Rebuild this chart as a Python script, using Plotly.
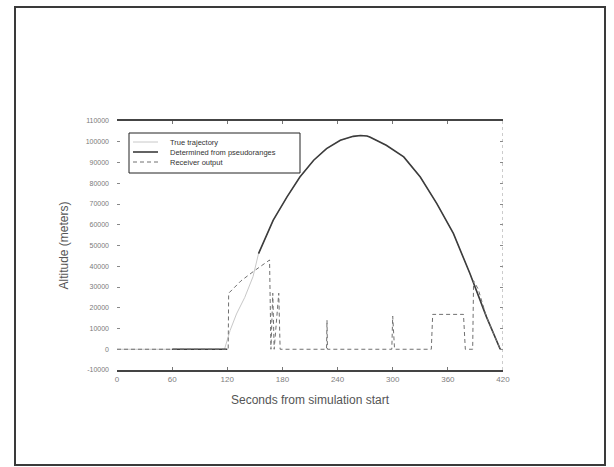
import plotly.graph_objects as go

# ---- data ----
true_t = [0, 60, 117, 123, 130, 139, 148, 154, 170, 185, 199, 214, 228, 243, 257, 265, 272, 275, 293, 312, 330, 348, 366, 384, 402, 417, 420]
true_alt = [0, 0, 0, 9000, 17000, 25000, 35000, 46100, 62200, 73400, 83000, 91100, 96700, 100700, 102600, 103000, 102800, 102300, 98300, 92700, 83000, 70200, 55800, 36500, 15600, 0, 0]

det_t = [60, 90, 120, None, 154, 170, 185, 199, 214, 228, 243, 257, 265, 272, 275, 293, 312, 330, 348, 366, 384, 402, 417]
det_alt = [0, 0, 0, None, 46100, 62200, 73400, 83000, 91100, 96700, 100700, 102600, 103000, 102800, 102300, 98300, 92700, 83000, 70200, 55800, 36500, 15600, 0]

rx_t = [0, 121, 121.5, 135, 150, 166, 167.5, 169.5, 171, 176, 177.5, 228, 228.5, 229, 299, 300, 302, 342, 343.5, 377, 379, 387, 388, 393, 402, 417]
rx_alt = [0, 0, 27000, 33000, 38000, 43000, 0, 27000, 0, 27000, 0, 0, 14000, 0, 0, 16000, 0, 0, 16800, 16800, 0, 0, 33000, 29000, 15600, 0]

x_ticks = [0, 60, 120, 180, 240, 300, 360, 420]
y_ticks = [-10000, 0, 10000, 20000, 30000, 40000, 50000, 60000, 70000, 80000, 90000, 100000, 110000]

legend_names = ["True trajectory", "Determined from pseudoranges", "Receiver output"]

FONT = "Liberation Sans, Arial, sans-serif"
styles = [dict(color="#c8c8c8", width=1),
          dict(color="#3c3c3c", width=1.6),
          dict(color="#707070", width=1, dash="4px,3px")]

fig = go.Figure()
fig.add_trace(go.Scatter(x=true_t, y=true_alt, mode="lines", name=legend_names[0],
                         line=styles[0], showlegend=False))
fig.add_trace(go.Scatter(x=det_t, y=det_alt, mode="lines", name=legend_names[1],
                         line=styles[1], connectgaps=False, showlegend=False))
fig.add_trace(go.Scatter(x=rx_t, y=rx_alt, mode="lines", name=legend_names[2],
                         line=styles[2], showlegend=False))

L, R, T, B = 117, 111, 121, 97
W, H = 614, 467
pw, ph = W - L - R, H - T - B


def px(x):
    return (x - L) / pw


def py(y):
    return 1 - (y - T) / ph


fig.update_layout(
    width=W, height=H,
    margin=dict(l=L, r=R, t=T, b=B, pad=0),
    paper_bgcolor="white", plot_bgcolor="white",
    font=dict(family=FONT, color="#555555"),
    xaxis=dict(range=[0, 420], tickvals=x_ticks, ticktext=[str(v) for v in x_ticks],
               showgrid=False, zeroline=False, showline=True, linewidth=2, linecolor="#444444",
               mirror="ticks", ticks="inside", ticklen=3, tickcolor="#777777",
               tickfont=dict(size=8, color="#808080"),
               title=dict(text="Seconds from simulation start", font=dict(size=12, color="#555555"), standoff=13)),
    yaxis=dict(range=[-10000, 110000], tickvals=y_ticks, ticktext=[str(v) for v in y_ticks],
               showgrid=False, zeroline=False, showline=False,
               mirror="ticks", ticks="inside", ticklen=3, tickcolor="#888888",
               tickfont=dict(size=7, color="#7a7a7a"), ticklabelstandoff=7,
               title=dict(text="Altitude (meters)", font=dict(size=12, color="#555555"), standoff=14)),
)

# right dotted frame edge
fig.add_shape(type="line", xref="x", yref="y", x0=420, x1=420, y0=-10000, y1=110000,
              line=dict(color="#999999", width=1, dash="dot"))

# legend box drawn by hand
fig.add_shape(type="rect", xref="paper", yref="paper",
              x0=px(129), x1=px(300), y0=py(173), y1=py(133),
              line=dict(color="#222222", width=1), fillcolor="white", layer="above")
for i, (name, st) in enumerate(zip(legend_names, styles)):
    yy = 142 + i * 10
    fig.add_shape(type="line", xref="paper", yref="paper",
                  x0=px(133), x1=px(158), y0=py(yy), y1=py(yy),
                  line=st, layer="above")
    fig.add_annotation(xref="paper", yref="paper", x=px(168), y=py(yy),
                       text=name, showarrow=False, xanchor="left", yanchor="middle",
                       font=dict(size=7.5, color="#333333", family=FONT))

# outer border of the figure
fig.add_shape(type="rect", xref="paper", yref="paper",
              x0=px(15), x1=px(605), y0=py(465), y1=py(7),
              line=dict(color="#3a3a3a", width=2))

fig.write_html("out.html")
